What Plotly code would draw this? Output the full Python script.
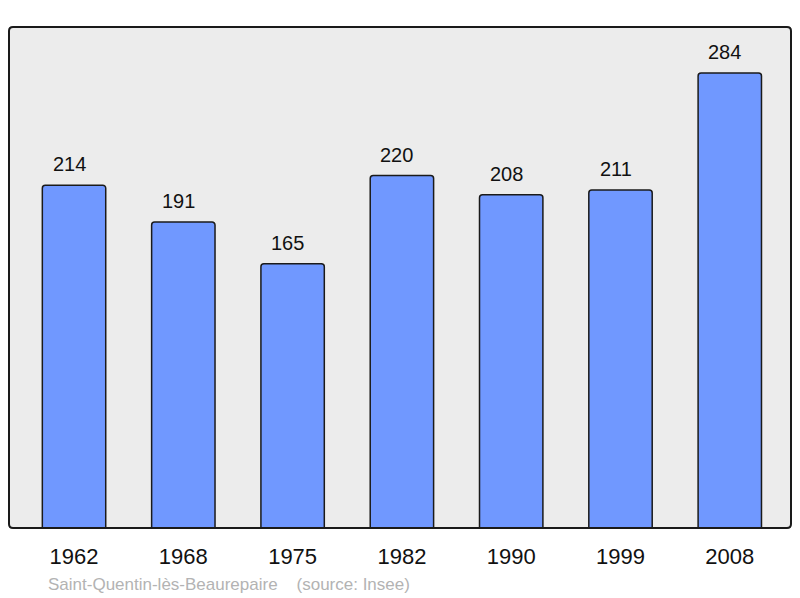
import plotly.graph_objs as go

# population data (Insee)
years = ['1962', '1968', '1975', '1982', '1990', '1999', '2008']
population = [214, 191, 165, 220, 208, 211, 284]
source_text = 'Saint-Quentin-lès-Beaurepaire\u00a0\u00a0\u00a0\u00a0(source: Insee)'

fig = go.Figure()

fig.add_trace(go.Bar(x=years,
                     y=population,
                     width=0.58,
                     marker=dict(color='#7098ff',
                                 line=dict(color='#1a1a1a', width=1.5),
                                 cornerradius=3),
                     hoverinfo='x+y'))

# value labels above bars (x given as category index)
for i, val in enumerate(population):
    fig.add_annotation(x=i, y=val, text=str(val),
                       showarrow=False, yanchor='bottom', yshift=8, xshift=-5,
                       font=dict(size=20, color='#111111'))

# rounded frame around the plot area
rx, ry = 4 / 782, 4 / 501
frame = (f'M {rx},0 L {1-rx},0 Q 1,0 1,{ry} L 1,{1-ry} Q 1,1 {1-rx},1 '
         f'L {rx},1 Q 0,1 0,{1-ry} L 0,{ry} Q 0,0 {rx},0 Z')
fig.add_shape(type='path', xref='paper', yref='paper', path=frame,
              line=dict(color='#1a1a1a', width=2), layer='above')

# source line under the axis
fig.add_annotation(x=(46 - 9) / 782, xref='paper', xanchor='left',
                   y=-(584 - 528) / 501, yref='paper', yanchor='middle',
                   text=source_text, showarrow=False,
                   font=dict(size=17, color='#b3b3b3'))

fig.update_layout(width=800, height=598,
                  margin=dict(l=9, r=9, t=27, b=70),
                  paper_bgcolor='white',
                  plot_bgcolor='#ececec',
                  font=dict(family='Liberation Sans, Arial, sans-serif'),
                  showlegend=False,
                  xaxis=dict(type='category', range=[-0.595, 6.56], showgrid=False,
                             tickfont=dict(size=22, color='#111111'),
                             ticks='', ticklen=0, ticklabelstandoff=13),
                  yaxis=dict(range=[0, 312.7], showgrid=False,
                             showticklabels=False, zeroline=False))

fig.write_html('out.html', config={'displayModeBar': False},
               post_script="document.body.style.margin='0';")
